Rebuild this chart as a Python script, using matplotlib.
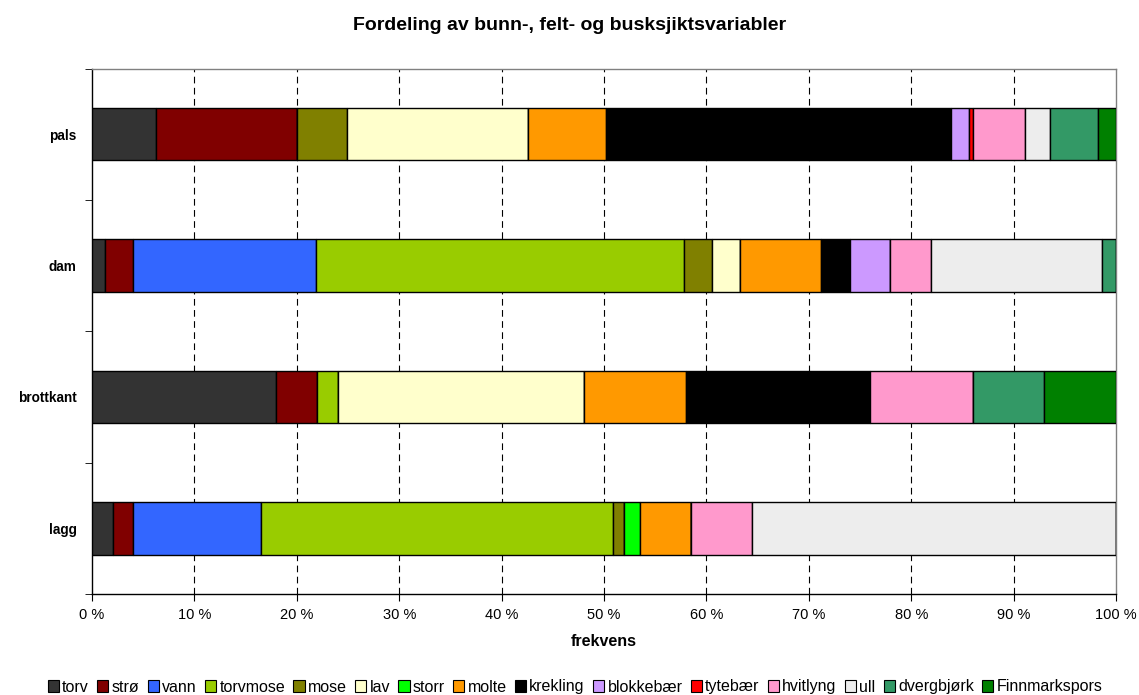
import matplotlib
matplotlib.use("Agg")
import matplotlib.pyplot as plt
from matplotlib.patches import Patch
import numpy as np

plt.rcParams['font.family'] = ['Liberation Sans', 'DejaVu Sans']

categories = ["lagg", "brottkant", "dam", "pals"]
series = ["torv", "strø", "vann", "torvmose", "mose", "lav", "storr", "molte",
          "krekling", "blokkebær", "tytebær", "hvitlyng", "ull", "dvergbjørk",
          "Finnmarkspors"]
# values per series, in order [lagg, brottkant, dam, pals]
torv = [2.0, 18.0, 1.3, 6.2]
stro = [2.0, 4.0, 2.7, 13.8]
vann = [12.5, 0.0, 17.9, 0.0]
torvmose = [34.4, 2.0, 35.9, 0.0]
mose = [1.1, 0.0, 2.7, 4.9]
lav = [0.0, 24.0, 2.8, 17.7]
storr = [1.5, 0.0, 0.0, 0.0]
molte = [5.0, 10.0, 7.9, 7.6]
krekling = [0.0, 18.0, 2.8, 33.7]
blokkebaer = [0.0, 0.0, 3.9, 1.7]
tytebaer = [0.0, 0.0, 0.0, 0.4]
hvitlyng = [6.0, 10.0, 4.0, 5.1]
ull = [35.5, 0.0, 16.7, 2.5]
dvergbjork = [0.0, 7.0, 1.4, 4.6]
finnmarkspors = [0.0, 7.0, 0.0, 1.8]
values = [torv, stro, vann, torvmose, mose, lav, storr, molte, krekling,
          blokkebaer, tytebaer, hvitlyng, ull, dvergbjork, finnmarkspors]
colors = ["#333333", "#800000", "#3366FF", "#99CC00", "#808000", "#FFFFCC",
          "#00FF00", "#FF9900", "#000000", "#CC99FF", "#FF0000", "#FF99CC",
          "#EDEDED", "#339966", "#008000"]
xticks = [0, 10, 20, 30, 40, 50, 60, 70, 80, 90, 100]
xticklabels = [f"{v} %" for v in xticks]

fig = plt.figure(figsize=(11.39, 6.95), dpi=100)
ax = fig.add_axes([0.0808, 0.1453, 0.8990, 0.7561])

y = np.arange(len(categories))
left = np.zeros(len(categories))
for name, vals, col in zip(series, values, colors):
    vals = np.array(vals)
    ax.barh(y, vals, left=left, height=0.40, color=col, edgecolor="black",
            linewidth=1.0, zorder=3, label=name)
    left += vals

ax.set_xlim(0, 100)
ax.set_ylim(-0.5, 3.5)
ax.set_xticks(xticks)
ax.set_xticklabels(xticklabels, fontsize=10.5)
ax.set_yticks(y)
ax.set_yticklabels(categories, fontsize=9.8, fontweight="bold")
ax.tick_params(axis="y", which="major", length=0, pad=11)
ax.set_yticks(np.arange(-0.5, 4.0, 1.0), minor=True)
ax.tick_params(axis="y", which="minor", length=5, direction="out", color="black")
ax.tick_params(axis="x", length=5, direction="out", color="black", pad=5)

for xv in xticks[1:-1]:
    ax.axvline(xv, color="black", linewidth=0.8, linestyle=(0, (6, 4)), zorder=1)

ax.spines["left"].set_color("black")
ax.spines["bottom"].set_color("black")
ax.spines["top"].set_color("#808080")
ax.spines["right"].set_color("#808080")
for s in ax.spines.values():
    s.set_linewidth(1.0)

ax.set_xlabel("frekvens", fontsize=11.5, fontweight="bold", labelpad=9)
fig.text(0.5, 1 - 26 / 695, "Fordeling av bunn-, felt- og busksjiktsvariabler",
         ha="center", va="center", fontsize=14, fontweight="bold")

handles = [Patch(facecolor=c, edgecolor="black", linewidth=0.8) for c in colors]
fig.legend(handles, series, loc="center", bbox_to_anchor=(0.505, 1 - 687 / 695),
           ncol=len(series), frameon=False, fontsize=11.5, handlelength=0.7,
           handleheight=0.7, handletextpad=0.2, columnspacing=0.52,
           borderaxespad=0)

fig.savefig("out.png", dpi=100)
